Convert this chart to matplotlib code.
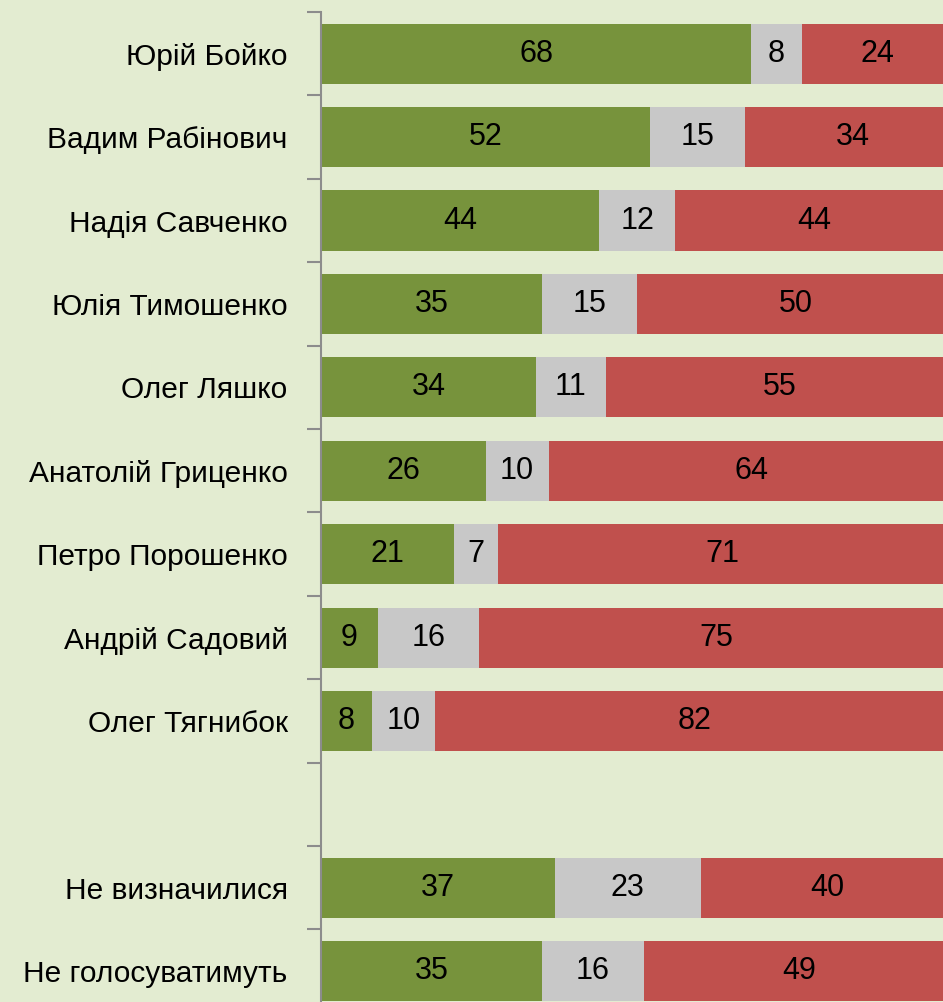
import matplotlib
matplotlib.use("Agg")
import matplotlib.pyplot as plt
import numpy as np
from matplotlib import font_manager

names = {f.name for f in font_manager.fontManager.ttflist}
fam = ["Liberation Sans", "DejaVu Sans"]
fam = [f for f in fam if f in names] or ["DejaVu Sans"]
plt.rcParams['font.family'] = fam

categories = ["Юрій Бойко", "Вадим Рабінович", "Надія Савченко", "Юлія Тимошенко",
              "Олег Ляшко", "Анатолій Гриценко", "Петро Порошенко", "Андрій Садовий",
              "Олег Тягнибок", "", "Не визначилися", "Не голосуватимуть"]
positive = [68, 52, 44, 35, 34, 26, 21, 9, 8, None, 37, 35]
neutral = [8, 15, 12, 15, 11, 10, 7, 16, 10, None, 23, 16]
negative = [24, 34, 44, 50, 55, 64, 71, 75, 82, None, 40, 49]

c_pos, c_neu, c_neg = "#77933c", "#c8c8c8", "#c0504d"
bg = "#e3ecd1"

fig = plt.figure(figsize=(9.43, 10.02), dpi=100, facecolor=bg)
ax = fig.add_axes([321/943, 0.0, 1 - 321/943, 1 - 12/1002])
ax.set_facecolor(bg)

for i, (p, n, g) in enumerate(zip(positive, neutral, negative)):
    if p is None:
        continue
    left = 0
    for val, col in ((p, c_pos), (n, c_neu), (g, c_neg)):
        ax.barh(i, val, left=left, height=0.72, color=col, edgecolor="none")
        ax.text(left + val / 2, i, str(val), ha="center", va="center",
                fontsize=22, color="black")
        left += val

ax.set_xlim(0, 98.3)
ax.set_ylim(11.37, -0.5)
ax.set_xticks([])
ax.set_yticks(np.arange(-0.5, 11, 1.0))
ax.set_yticklabels([])
ax.set_yticks(range(len(categories)), minor=True)
ax.set_yticklabels(categories, minor=True, fontsize=21.5)
ax.tick_params(axis="y", which="major", length=10, color="#8c8c8c", width=1.5)
ax.tick_params(axis="y", which="minor", length=0, pad=24)
for s in ("top", "right", "bottom"):
    ax.spines[s].set_visible(False)
ax.spines["left"].set_color("#8c8c8c")
ax.spines["left"].set_linewidth(1.5)

fig.savefig("out.png", dpi=100, facecolor=bg)
